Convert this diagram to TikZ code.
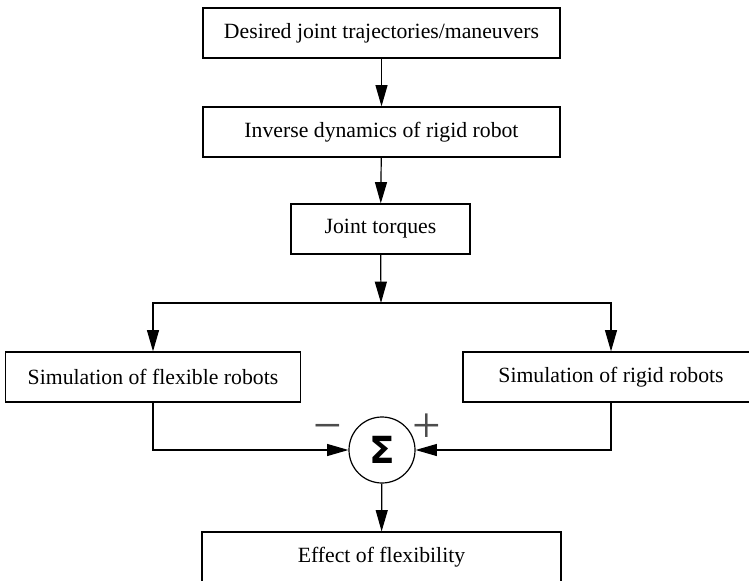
\documentclass[tikz,border=0pt]{standalone}
\usepackage{fontspec}
\setmainfont{Liberation Serif}
\newfontfamily\sigmafont{DejaVu Sans}
\usetikzlibrary{arrows.meta}
\begin{document}
\begin{tikzpicture}[x=0.75pt,y=-0.75pt,
  line width=0.9pt,
  >={Triangle[length=16pt,width=9pt]},
  blockbox/.style={draw,minimum height=37.5pt,font=\fontsize{16.3}{19}\selectfont},
  sumnode/.style={draw,circle,minimum size=49.5pt,inner sep=0pt,font=\sigmafont\bfseries\fontsize{28}{30}\selectfont},
  signlabel/.style={text=black!70,inner sep=0pt,font=\fontsize{38}{40}\selectfont}]
 \useasboundingbox (0,0) rectangle (749,581);
 \node [blockbox,minimum width=267.75pt] (desired) at (381.5,33) {Desired joint trajectories/maneuvers};
 \node [blockbox,minimum width=267.75pt] (inverse) at (381.5,132) {Inverse dynamics of rigid robot};
 \node [blockbox,minimum width=134.25pt] (torques) at (380.5,229) {Joint torques};
 \coordinate (split) at (381,303);
 \node [blockbox,minimum width=221.25pt] (flexible) at (153,377) {Simulation of flexible robots};
 \node [blockbox,minimum width=222pt] (rigid) at (611,377) {Simulation of rigid robots};
 \node [sumnode] (sum) at (382,450) {Σ};
 \node [signlabel] (minus) at (328,433) {−};
 \node [signlabel] (plus) at (427,428) {+};
 \node [blockbox,minimum width=269.25pt] (effect) at (381.5,557) {Effect of flexibility};
 \draw [->] (desired) -- (inverse);
 \draw [->] (inverse) -- (torques);
 \draw [->] (torques) -- (split);
 \draw [->] (split) -| (flexible);
 \draw [->] (split) -| (rigid);
 \draw [->] (flexible) |- (sum);
 \draw [->] (rigid) |- (sum);
 \draw [->] (sum) -- (effect);
\end{tikzpicture}
\end{document}
